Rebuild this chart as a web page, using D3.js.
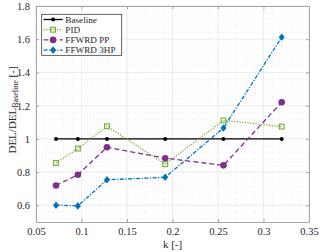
<!DOCTYPE html>
<html>
<head>
<meta charset="utf-8">
<script src="https://cdn.jsdelivr.net/npm/d3@7"></script>
<style>
	body { margin: 0; background: #fff; }
	text { font-family: "Liberation Serif", "Times New Roman", serif; fill: #262626; }
</style>
</head>
<body>
<svg width="320" height="252"></svg>
<script>
var k = [0.072, 0.096, 0.128, 0.192, 0.256, 0.32];
var baseline = [1, 1, 1, 1, 1, 1];
var pid = [0.855, 0.942, 1.076, 0.848, 1.112, 1.074];
var ffwrdPP = [0.72, 0.784, 0.95, 0.884, 0.841, 1.221];
var ffwrd3HP = [0.601, 0.597, 0.754, 0.769, 1.066, 1.612];
var xTicks = [0.05, 0.1, 0.15, 0.2, 0.25, 0.3, 0.35];
var yTicks = [0.6, 0.8, 1, 1.2, 1.4, 1.6, 1.8];

var series = [
	{ name: "Baseline", values: baseline, color: "#000000", dash: null, marker: "dot" },
	{ name: "PID", values: pid, color: "#77ac30", dash: "1.2,1.5", marker: "square" },
	{ name: "FFWRD PP", values: ffwrdPP, color: "#7e2f8e", dash: "5,3", marker: "circle" },
	{ name: "FFWRD 3HP", values: ffwrd3HP, color: "#0072bd", dash: "4,1.5,1.2,1.5", marker: "diamond" }
];

var svg = d3.select("svg"),
	margin = { left: 36, right: 11, top: 6, bottom: 30 },
	width = 320 - margin.left - margin.right,
	height = 252 - margin.top - margin.bottom;

var x = d3.scaleLinear().domain([0.05, 0.35]).range([0, width]);
var y = d3.scaleLinear().domain([0.5, 1.8]).range([height, 0]);

var g = svg.append("g").attr("transform", "translate(" + margin.left + "," + margin.top + ")");

// minor grid
g.selectAll(".minx")
	.data(d3.range(5, 36).map((d) => d / 100))
	.enter()
	.append("line")
	.attr("class", "minx")
	.attr("x1", (d) => x(d)).attr("x2", (d) => x(d))
	.attr("y1", 0).attr("y2", height)
	.attr("stroke", "#dcdcdc")
	.attr("stroke-width", 0.5)
	.attr("stroke-dasharray", "1,2");
g.selectAll(".miny")
	.data(d3.range(13, 46).map((d) => d * 0.04))
	.enter()
	.append("line")
	.attr("class", "miny")
	.attr("y1", (d) => y(d)).attr("y2", (d) => y(d))
	.attr("x1", 0).attr("x2", width)
	.attr("stroke", "#dcdcdc")
	.attr("stroke-width", 0.5)
	.attr("stroke-dasharray", "1,2");

// major grid
g.selectAll(".gx")
	.data(xTicks)
	.enter()
	.append("line")
	.attr("class", "gx")
	.attr("x1", (d) => x(d)).attr("x2", (d) => x(d))
	.attr("y1", 0).attr("y2", height)
	.attr("stroke", "#e6e6e6")
	.attr("stroke-width", 0.7);
g.selectAll(".gy")
	.data(yTicks)
	.enter()
	.append("line")
	.attr("class", "gy")
	.attr("y1", (d) => y(d)).attr("y2", (d) => y(d))
	.attr("x1", 0).attr("x2", width)
	.attr("stroke", "#e6e6e6")
	.attr("stroke-width", 0.7);

// axes
var fmt = (d) => String(d);
g.append("g").attr("transform", "translate(0," + height + ")")
	.call(d3.axisBottom(x).tickValues(xTicks).tickFormat(fmt).tickSizeInner(-3).tickSizeOuter(0).tickPadding(6));
g.append("g")
	.call(d3.axisLeft(y).tickValues(yTicks).tickFormat(fmt).tickSizeInner(-3).tickSizeOuter(0).tickPadding(6));
g.append("g").call(d3.axisTop(x).tickValues(xTicks).tickFormat("").tickSizeInner(-3).tickSizeOuter(0));
g.append("g").attr("transform", "translate(" + width + ",0)")
	.call(d3.axisRight(y).tickValues(yTicks).tickFormat("").tickSizeInner(-3).tickSizeOuter(0));
g.selectAll(".domain").attr("stroke", "#a6a6a6");
g.selectAll(".tick line").attr("stroke", "#a6a6a6");
g.selectAll(".tick text").attr("font-size", 10.5).attr("fill", "#262626")
	.style("font-family", "'Liberation Serif', serif");

// lines
var line = d3.line().x((d, i) => x(k[i])).y((d) => y(d));

function drawMarker(sel, type, color, cx, cy) {
	if (type === "dot") {
		sel.append("circle").attr("cx", cx).attr("cy", cy).attr("r", 2).attr("fill", color);
	} else if (type === "square") {
		sel.append("rect").attr("x", cx - 2.4).attr("y", cy - 2.4).attr("width", 4.8).attr("height", 4.8)
			.attr("fill", "none").attr("stroke", color).attr("stroke-width", 1.1);
	} else if (type === "circle") {
		sel.append("circle").attr("cx", cx).attr("cy", cy).attr("r", 3.3).attr("fill", color);
	} else {
		var s = 3.8;
		sel.append("path")
			.attr("d", "M" + cx + "," + (cy - s) + "L" + (cx + s * 0.8) + "," + cy + "L" + cx + "," + (cy + s) + "L" + (cx - s * 0.8) + "," + cy + "Z")
			.attr("fill", color);
	}
}

series.forEach(function(s) {
	g.append("path")
		.datum(s.values)
		.attr("d", line)
		.attr("fill", "none")
		.attr("stroke", s.color)
		.attr("stroke-width", 1.3)
		.attr("stroke-dasharray", s.dash);
	var mg = g.append("g");
	s.values.forEach(function(v, i) {
		drawMarker(mg, s.marker, s.color, x(k[i]), y(v));
	});
});

// legend
var lg = g.append("g").attr("transform", "translate(5.7,8.3)");
lg.append("rect").attr("width", 80).attr("height", 41)
	.attr("fill", "#fff").attr("stroke", "#262626").attr("stroke-width", 0.7);
series.forEach(function(s, i) {
	var ly = 5.2 + i * 10.2;
	lg.append("line").attr("x1", 1.8).attr("x2", 21).attr("y1", ly).attr("y2", ly)
		.attr("stroke", s.color).attr("stroke-width", 1.3).attr("stroke-dasharray", s.dash);
	drawMarker(lg, s.marker, s.color, 11.4, ly);
	lg.append("text").attr("x", 23.6).attr("y", ly + 3.2).attr("font-size", 9.2).text(s.name);
});

// axis labels
svg.append("text")
	.attr("x", margin.left + x(0.2))
	.attr("y", 247.5)
	.attr("text-anchor", "middle")
	.attr("font-size", 11)
	.text("k [-]");

var yl = svg.append("text")
	.attr("transform", "translate(15.5,110) rotate(-90)")
	.attr("text-anchor", "middle")
	.attr("font-size", 11);
yl.append("tspan").text("DEL/DEL");
yl.append("tspan").attr("font-size", 8).attr("dy", 2.5).text("Baseline");
yl.append("tspan").attr("dy", -2.5).text(" [-]");
</script>
</body>
</html>
